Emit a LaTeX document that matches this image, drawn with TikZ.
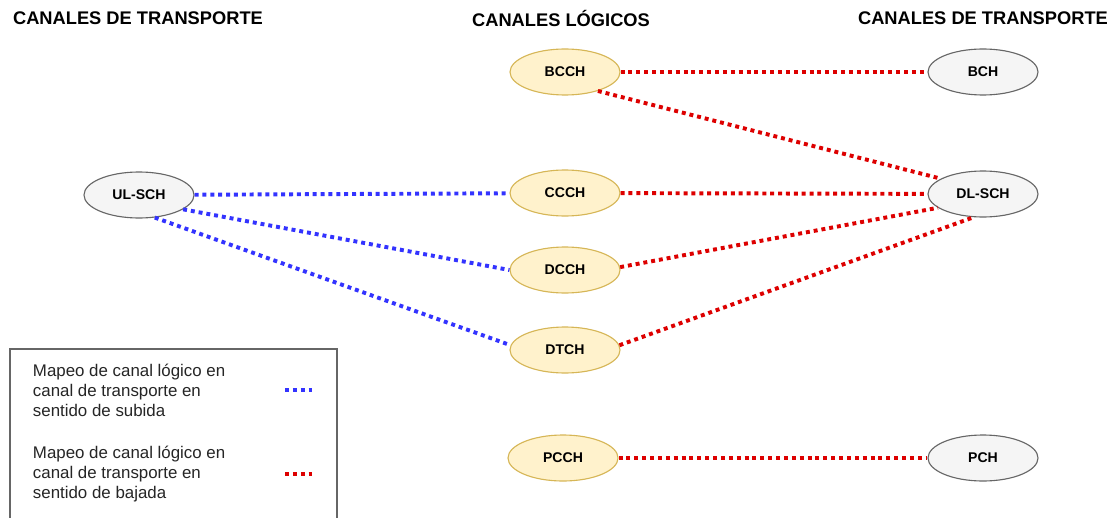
\documentclass[tikz,border=0pt]{standalone}
\usepackage{fontspec}
\setmainfont{Liberation Sans}
\usetikzlibrary{shapes}
\usetikzlibrary{positioning}
\definecolor{logfill}{HTML}{FFF2CC}
\definecolor{logdraw}{HTML}{D6B656}
\definecolor{trfill}{HTML}{F5F5F5}
\definecolor{trdraw}{HTML}{666666}
\definecolor{upblue}{HTML}{3333FF}
\definecolor{downred}{HTML}{DD0000}
\tikzset{
    nodelog/.style = {ellipse, thick, draw=logdraw, fill=logfill, minimum width=2.75cm, minimum height=1.15cm, font=\fontsize{10}{12}\selectfont\bfseries, text=black},
    nodetr/.style = {ellipse, thick, draw=trdraw, fill=trfill, minimum width=2.75cm, minimum height=1.15cm, font=\fontsize{10}{12}\selectfont\bfseries, text=black},
    header/.style = {font=\fontsize{13}{15}\selectfont\bfseries, text=black},
    legtext/.style = {align=left, anchor=west, font=\fontsize{12}{14.2}\selectfont, text=black!85},
    edgeu/.style = {-, line width=2.8pt, upblue, dash pattern=on 2.8pt off 2.8pt}, % subida
    edged/.style = {-, line width=2.8pt, downred, dash pattern=on 2.8pt off 2.8pt}, % bajada
}

\begin{document}
\begin{tikzpicture}[x=0.025cm,y=-0.025cm]
\useasboundingbox (0,0) rectangle (1115,518);
\clip (0,0) rectangle (1115,518);

% titulos
\node[header] at (138, 18) (tl) {CANALES DE TRANSPORTE};
\node[header] at (561, 18) (tc) {CANALES LÓGICOS};
\node[header] at (983, 18) (tr) {CANALES DE TRANSPORTE};

% canales logicos
\node[nodelog] at (565,  72) (bcch) {BCCH};
\node[nodelog] at (565, 193) (ccch) {CCCH};
\node[nodelog] at (565, 270) (dcch) {DCCH};
\node[nodelog] at (565, 350) (dtch) {DTCH};
\node[nodelog] at (563, 458) (pcch) {PCCH};

% canales de transporte
\node[nodetr] at (139, 195) (ulsch) {UL-SCH};
\node[nodetr] at (983,  72) (bch) {BCH};
\node[nodetr] at (983, 194) (dlsch) {DL-SCH};
\node[nodetr] at (983, 458) (pch) {PCH};

% subida
\draw[edgeu] (ulsch) -- (ccch);
\draw[edgeu] (ulsch.-18) -- (dcch.west);
\draw[edgeu] (ulsch.-55) -- (dtch.175);

% bajada
\draw[edged] (bcch) -- (bch);
\draw[edged] (bcch.-30) -- (dlsch.160);
\draw[edged] (ccch) -- (dlsch);
\draw[edged] (dcch.3) -- (dlsch.-163);
\draw[edged] (dtch.5) -- (dlsch.-112);
\draw[edged] (pcch) -- (pch);

% leyenda
\draw[trdraw, line width=1.5pt, fill=white] (10,349) rectangle (337,540);
\node[legtext] at (28, 390) (l1) {Mapeo de canal lógico en\\canal de transporte en\\sentido de subida};
\node[legtext] at (28, 474) (l2) {Mapeo de canal lógico en\\canal de transporte en\\sentido de bajada};
\coordinate (u1) at (285, 390);
\coordinate (u2) at (312, 390);
\coordinate (d1) at (285, 474);
\coordinate (d2) at (312, 474);
\draw[edgeu] (u1) -- (u2);
\draw[edged] (d1) -- (d2);

\end{tikzpicture}
\end{document}
